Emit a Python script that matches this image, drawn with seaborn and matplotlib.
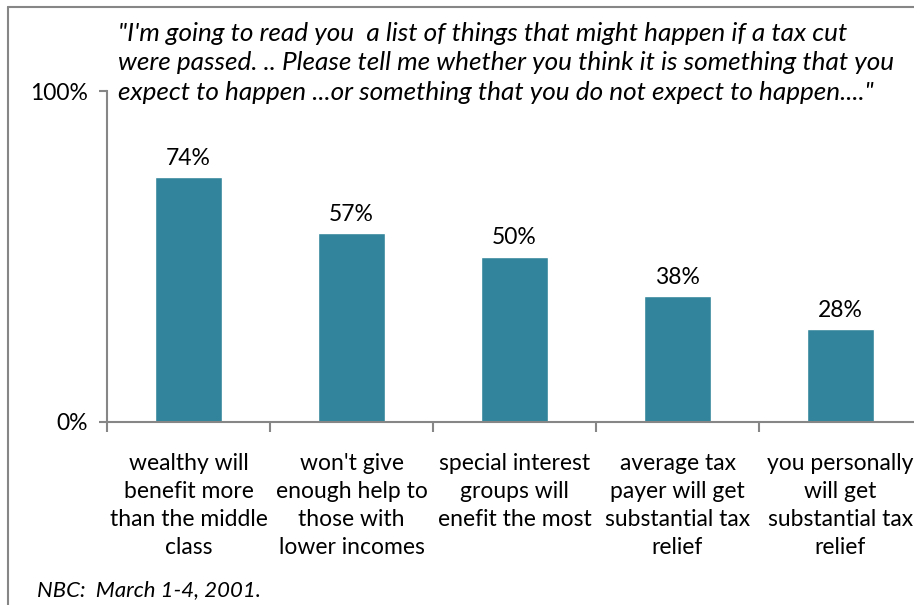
import matplotlib
matplotlib.use("Agg")
import matplotlib.pyplot as plt
import seaborn as sns
import pandas as pd
from matplotlib.lines import Line2D
from matplotlib.ticker import FixedLocator

categories = [
    "wealthy will\nbenefit more\nthan the middle\nclass",
    "won't give\nenough help to\nthose with\nlower incomes",
    "special interest\ngroups will\nenefit the most",
    "average tax\npayer will get\nsubstantial tax\nrelief",
    "you personally\nwill get\nsubstantial tax\nrelief",
]
values = [74, 57, 50, 38, 28]
value_labels = ["74%", "57%", "50%", "38%", "28%"]
y_ticks = [0, 100]
y_tick_labels = ["0%", "100%"]

quote = ("\"I'm going to read you  a list of things that might happen if a tax cut\n"
         "were passed. .. Please tell me whether you think it is something that you\n"
         "expect to happen ...or something that you do not expect to happen....\"")
source = "NBC:  March 1-4, 2001."

sns.set_theme(style="white")
plt.rcParams["font.family"] = ["Lato", "DejaVu Sans"]
plt.rcParams["text.color"] = "black"
plt.rcParams["xtick.labelcolor"] = "black"
plt.rcParams["ytick.labelcolor"] = "black"

W, H = 914, 605
fig = plt.figure(figsize=(W / 100, H / 100), dpi=100)

# axes: x from 107 px, each category 163 px wide; y from 422 px (0%) to 91 px (100%)
left, bottom_px, top_px, cat_w = 107, 422, 91, 163
ax = fig.add_axes([left / W, 1 - bottom_px / H, 5 * cat_w / W, (bottom_px - top_px) / H])

df = pd.DataFrame({"cat": categories, "val": values})
sns.barplot(data=df, x="cat", y="val", color="#31849B", saturation=1, width=0.41, ax=ax)

ax.set_xlim(-0.5, 4.5)
ax.set_ylim(0, 100)
ax.set_xlabel("")
ax.set_ylabel("")

grey = "#868686"
for side in ["top", "right"]:
    ax.spines[side].set_visible(False)
for side in ["left", "bottom"]:
    ax.spines[side].set_color(grey)
    ax.spines[side].set_linewidth(1.5)

fs = 16.5
ax.set_yticks(y_ticks)
ax.set_yticklabels(y_tick_labels, fontsize=fs, color="black")
ax.tick_params(axis="y", left=True, length=6, width=1.5, color=grey, pad=8)

ax.set_xticks(range(len(categories)))
ax.set_xticklabels(categories, fontsize=fs, linespacing=1.42, color="black")
ax.tick_params(axis="x", bottom=False, pad=16)
ax.xaxis.set_minor_locator(FixedLocator([i + 0.5 for i in range(-1, 5)]))
ax.tick_params(axis="x", which="minor", bottom=True, length=7, width=1.5, color=grey)

for i, (v, lab) in enumerate(zip(values, value_labels)):
    ax.annotate(lab, (i, v), xytext=(0, 6), textcoords="offset points",
                ha="center", va="bottom", fontsize=fs, color="black")

fig.text(118 / W, 1 - 63 / H, quote, ha="left", va="center", fontsize=18.8,
         style="italic", linespacing=1.36, multialignment="left", color="black")
fig.text(37 / W, 1 - 590 / H, source, ha="left", va="center", fontsize=15.9,
         style="italic", color="black")

# outer frame of the chart
fig.add_artist(Line2D([8 / W, 8 / W], [0, 1 - 7 / H], color=grey, lw=1.5, transform=fig.transFigure))
fig.add_artist(Line2D([8 / W, 1], [1 - 7 / H, 1 - 7 / H], color=grey, lw=1.5, transform=fig.transFigure))

fig.savefig("out.png", dpi=100)
